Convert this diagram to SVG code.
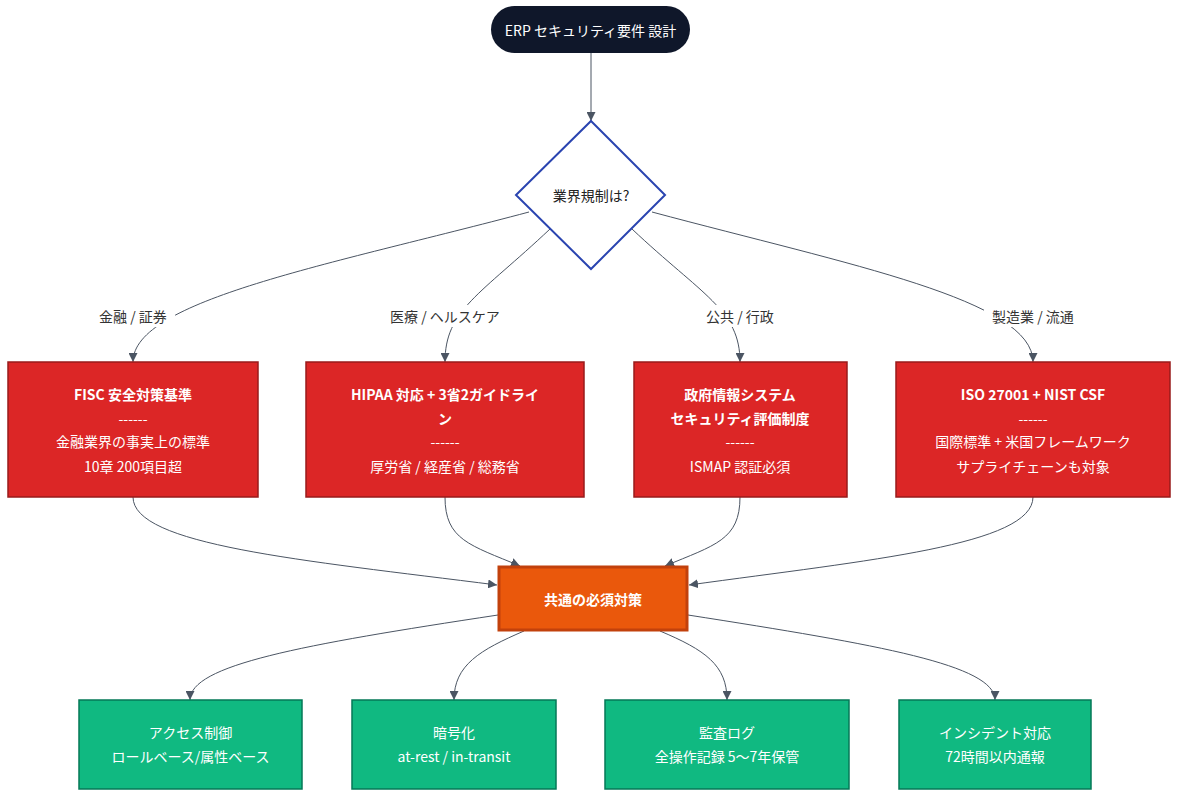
<svg xmlns="http://www.w3.org/2000/svg" width="1186" height="801" viewBox="0 0 1186 801">
<style>
text{font-family:"Noto Sans CJK JP","Noto Sans",sans-serif;font-size:14px;text-anchor:middle;dominant-baseline:central}
.w{fill:#ffffff}
.b{font-weight:bold}
.lbl{fill:#333333}
.edge{fill:none;stroke:#4b5563;stroke-width:1}
.red{fill:#dc2626;stroke:#991b1b;stroke-width:1.5}
.grn{fill:#10b981;stroke:#047857;stroke-width:1.5}
.org{fill:#ea580c;stroke:#c2410c;stroke-width:3}
</style>
<defs>
<marker id="arr" viewBox="0 0 10 10" refX="10" refY="5" markerWidth="9" markerHeight="9" markerUnits="userSpaceOnUse" orient="auto">
<path d="M0,0 L10,5 L0,10 z" fill="#4b5563"/>
</marker>
</defs>
<rect width="1186" height="801" fill="#ffffff"/>
<g id="connectors">
<path class="edge" d="M591,53 L591,121" marker-end="url(#arr)"/>
<path class="edge" d="M529,212 C330,265 133,300 133,362" marker-end="url(#arr)"/>
<path class="edge" d="M550,229 C480,295 445,310 445,362" marker-end="url(#arr)"/>
<path class="edge" d="M632,229 C702,295 740,310 740,362" marker-end="url(#arr)"/>
<path class="edge" d="M652,212 C850,265 1033,300 1033,362" marker-end="url(#arr)"/>
<path class="edge" d="M133,497 C133,545 300,560 497,585" marker-end="url(#arr)"/>
<path class="edge" d="M445,497 C445,540 470,545 520,566" marker-end="url(#arr)"/>
<path class="edge" d="M740,497 C740,540 715,545 665,566" marker-end="url(#arr)"/>
<path class="edge" d="M1033,497 C1033,545 870,560 689,585" marker-end="url(#arr)"/>
<path class="edge" d="M498,615 C300,645 190,665 190,700" marker-end="url(#arr)"/>
<path class="edge" d="M524,631 C480,650 454,665 454,700" marker-end="url(#arr)"/>
<path class="edge" d="M660,631 C705,650 727,665 727,700" marker-end="url(#arr)"/>
<path class="edge" d="M688,615 C880,645 995,665 995,700" marker-end="url(#arr)"/>
<g id="edge-labels">
<rect x="91" y="305" width="84" height="22" fill="#ffffff"/>
<text class="lbl" x="133" y="316">金融 / 証券</text>
<rect x="388" y="305" width="114" height="22" fill="#ffffff"/>
<text class="lbl" x="445" y="316">医療 / ヘルスケア</text>
<rect x="698" y="305" width="84" height="22" fill="#ffffff"/>
<text class="lbl" x="740" y="316">公共 / 行政</text>
<rect x="984" y="305" width="98" height="22" fill="#ffffff"/>
<text class="lbl" x="1033" y="316">製造業 / 流通</text>
</g>
</g>
<g id="start">
<rect x="491" y="6" width="199" height="47" rx="23.5" fill="#0f172a"/>
<text class="w" x="590.5" y="30">ERP セキュリティ要件 設計</text>
</g>
<g id="decision">
<polygon points="591,121 665,195 591,269 516,195" fill="#ffffff" stroke="#2a44b0" stroke-width="2"/>
<text x="591" y="195" fill="#222222">業界規制は?</text>
</g>
<g id="fisc">
<rect class="red" x="8" y="362" width="250" height="135"/>
<text class="w b" x="133" y="394">FISC 安全対策基準</text>
<text class="w" x="133" y="418">------</text>
<text class="w" x="133" y="441">金融業界の事実上の標準</text>
<text class="w" x="133" y="466">10章 200項目超</text>
</g>
<g id="hipaa">
<rect class="red" x="306" y="362" width="278" height="135"/>
<text class="w b" x="445" y="394">HIPAA 対応 + 3省2ガイドライ</text>
<text class="w b" x="445" y="418">ン</text>
<text class="w" x="445" y="441">------</text>
<text class="w" x="445" y="466">厚労省 / 経産省 / 総務省</text>
</g>
<g id="ismap">
<rect class="red" x="634" y="362" width="213" height="135"/>
<text class="w b" x="740" y="394">政府情報システム</text>
<text class="w b" x="740" y="418">セキュリティ評価制度</text>
<text class="w" x="740" y="441">------</text>
<text class="w" x="740" y="466">ISMAP 認証必須</text>
</g>
<g id="iso">
<rect class="red" x="896" y="362" width="274" height="135"/>
<text class="w b" x="1033" y="394">ISO 27001 + NIST CSF</text>
<text class="w" x="1033" y="418">------</text>
<text class="w" x="1033" y="441">国際標準 + 米国フレームワーク</text>
<text class="w" x="1033" y="466">サプライチェーンも対象</text>
</g>
<g id="common">
<rect class="org" x="499" y="567" width="188" height="63"/>
<text class="w b" x="593" y="599">共通の必須対策</text>
</g>
<g id="access">
<rect class="grn" x="79" y="700" width="223" height="89"/>
<text class="w" x="190.5" y="732">アクセス制御</text>
<text class="w" x="190.5" y="756">ロールベース/属性ベース</text>
</g>
<g id="crypto">
<rect class="grn" x="352" y="700" width="204" height="89"/>
<text class="w" x="454" y="732">暗号化</text>
<text class="w" x="454" y="756">at-rest / in-transit</text>
</g>
<g id="audit">
<rect class="grn" x="605" y="700" width="244" height="89"/>
<text class="w" x="727" y="732">監査ログ</text>
<text class="w" x="727" y="756">全操作記録 5〜7年保管</text>
</g>
<g id="incident">
<rect class="grn" x="899" y="700" width="192" height="89"/>
<text class="w" x="995" y="732">インシデント対応</text>
<text class="w" x="995" y="756">72時間以内通報</text>
</g>
</svg>
